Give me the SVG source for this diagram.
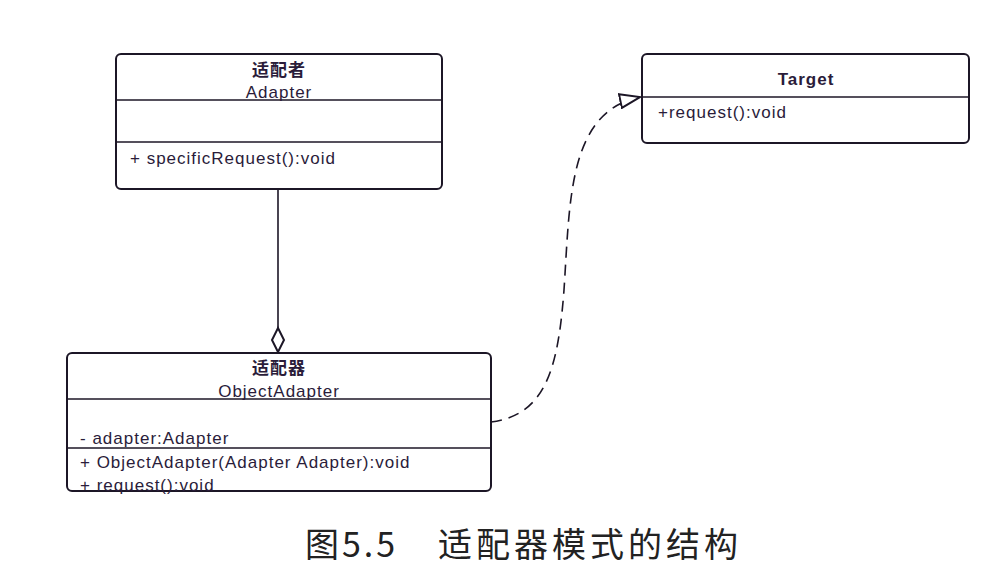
<svg xmlns="http://www.w3.org/2000/svg" width="996" height="578" viewBox="0 0 996 578">
<style>
.box{fill:#fff;stroke:#1c1626;stroke-width:2}
.ln{stroke:#1c1626;stroke-width:1.6;fill:none}
.t{font-family:"Liberation Sans","Noto Sans CJK SC",sans-serif;font-size:17px;letter-spacing:1px;fill:#2a1c3a}
.b{font-weight:bold}
.m{text-anchor:middle}
.cap{font-family:"Noto Sans CJK SC",sans-serif;font-size:34px;fill:#222}
</style>
<defs>
<marker id="tri" viewBox="0 0 22 16" refX="21" refY="8" markerWidth="22" markerHeight="16" markerUnits="userSpaceOnUse" orient="auto">
<path d="M1,1 L21,8 L1,15 Z" fill="#fff" stroke="#1c1626" stroke-width="2"/>
</marker>
</defs>
<rect width="996" height="578" fill="#fff"/>
<g id="connectors">
<line class="ln" x1="278" y1="189" x2="278" y2="328"/>
<path d="M278,328 L284,340 L278,352 L272,340 Z" fill="#fff" stroke="#1c1626" stroke-width="2"/>
<path class="ln" d="M491,422 C545,415 558,370 564,290 C570,200 568,112 640,97" stroke-width="2.4" stroke-dasharray="11,7" marker-end="url(#tri)"/>
</g>
<g id="adapter">
<rect class="box" x="116" y="54" width="326" height="135" rx="5"/>
<line class="ln" x1="116" y1="100" x2="442" y2="100"/>
<line class="ln" x1="116" y1="142" x2="442" y2="142"/>
<text class="t b m" x="279" y="76">适配者</text>
<text class="t m" x="279" y="98">Adapter</text>
<text class="t" x="130" y="164">+  specificRequest():void</text>
</g>
<g id="objectAdapter">
<rect class="box" x="67" y="353" width="424" height="138" rx="5"/>
<line class="ln" x1="67" y1="399" x2="491" y2="399"/>
<line class="ln" x1="67" y1="448" x2="491" y2="448"/>
<text class="t b m" x="279" y="374">适配器</text>
<text class="t m" x="279" y="397">ObjectAdapter</text>
<text class="t" x="80" y="444">-  adapter:Adapter</text>
<text class="t" x="80" y="468">+  ObjectAdapter(Adapter  Adapter):void</text>
<text class="t" x="80" y="491">+  request():void</text>
</g>
<g id="target">
<rect class="box" x="642" y="54" width="327" height="89" rx="5"/>
<line class="ln" x1="642" y1="97" x2="969" y2="97"/>
<text class="t b m" x="806" y="85">Target</text>
<text class="t" x="658" y="118">+request():void</text>
</g>
<g id="caption">
<text class="cap" x="305" y="557" letter-spacing="3">图5.5</text>
<text class="cap" x="438" y="557" letter-spacing="4">适配器模式的结构</text>
</g>
</svg>
